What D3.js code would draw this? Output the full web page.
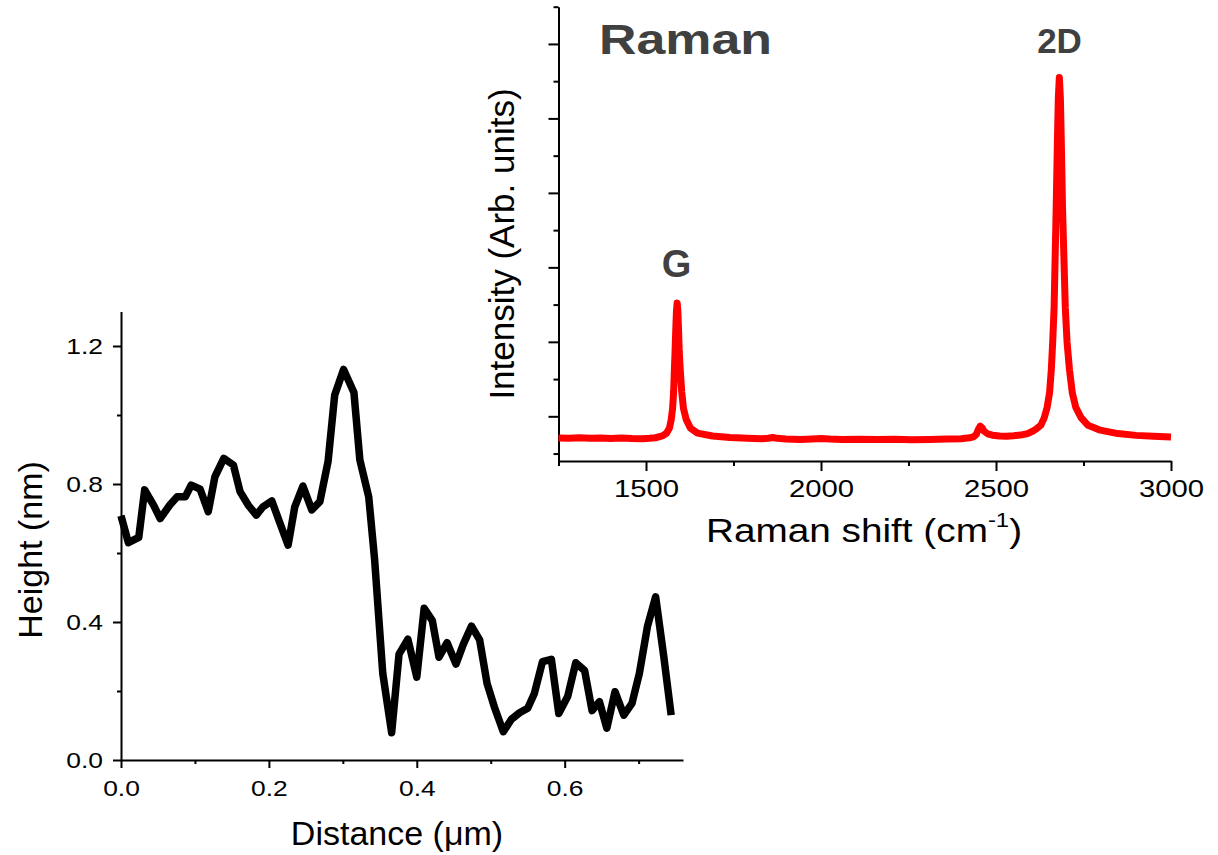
<!DOCTYPE html>
<html>
<head>
<meta charset="utf-8">
<script src="https://cdn.jsdelivr.net/npm/d3@7"></script>
<style>
  html, body { margin: 0; padding: 0; background: #fff; }
  svg { display: block; }
  .ax path, .ax line { stroke: #000; stroke-width: 2; }
  .ax text { font-family: "Liberation Sans", Arial, sans-serif; fill: #000; }
</style>
</head>
<body>
<svg id="chart" width="1218" height="855"></svg>
<script>
// ---------- AFM height profile (left panel) ----------
const distance = [0.000,0.010,0.024,0.032,0.044,0.053,0.066,0.076,0.087,0.095,0.107,0.118,0.127,0.139,0.152,0.161,0.172,0.183,0.192,0.204,0.215,0.226,0.235,0.246,0.258,0.269,0.280,0.289,0.301,0.315,0.323,0.335,0.343,0.354,0.366,0.376,0.388,0.400,0.410,0.421,0.430,0.441,0.453,0.463,0.474,0.485,0.495,0.505,0.517,0.528,0.539,0.550,0.559,0.570,0.582,0.592,0.604,0.615,0.627,0.637,0.647,0.657,0.668,0.680,0.691,0.701,0.712,0.723,0.734,0.744];
const height = [0.708,0.630,0.645,0.783,0.739,0.700,0.739,0.763,0.763,0.797,0.785,0.720,0.821,0.874,0.855,0.778,0.739,0.710,0.734,0.751,0.686,0.623,0.734,0.794,0.725,0.749,0.865,1.058,1.132,1.065,0.870,0.763,0.580,0.251,0.079,0.307,0.350,0.240,0.440,0.404,0.298,0.340,0.278,0.336,0.388,0.348,0.222,0.153,0.082,0.118,0.137,0.150,0.193,0.285,0.292,0.135,0.184,0.282,0.259,0.143,0.169,0.092,0.198,0.130,0.164,0.251,0.388,0.473,0.300,0.130];
const afmXTicks = [0, 0.2, 0.4, 0.6];
const afmXMinor = [0.1, 0.3, 0.5, 0.7];
const afmYTicks = [0, 0.4, 0.8, 1.2];
const afmYMinor = [0.2, 0.6, 1.0];

// ---------- Raman spectrum (right panel) ----------
const ramanShift = [1250,1280,1310,1340,1370,1400,1430,1460,1490,1510,1527,1547,1559,1567,1572,1576,1579,1581,1583,1585,1587,1589,1591,1593,1595,1598,1602,1607,1615,1627,1647,1690,1740,1790,1830,1850,1862,1875,1900,1940,1975,2000,2025,2060,2110,2160,2210,2260,2310,2360,2400,2425,2437,2444,2450,2455,2460,2466,2476,2490,2510,2530,2550,2570,2590,2606,2613,2628,2638,2646,2653,2658,2662,2666,2669,2672,2675,2678,2681,2684,2687,2690,2694,2698,2703,2710,2718,2728,2743,2763,2798,2848,2900,2950,3000];
const ramanIntensity = [710,706,712,704,709,703,708,701,700,705,712,736,775,842,955,1107,1333,1612,1867,2157,2413,2520,2413,2157,1867,1612,1333,1107,955,842,775,736,716,706,698,705,716,704,696,690,697,701,694,690,693,688,691,686,690,694,700,712,728,760,830,868,848,800,765,746,735,731,738,748,768,803,824,879,983,1119,1315,1624,1998,2459,3135,3811,4584,5266,5550,5266,4584,3811,3135,2459,1998,1624,1315,1119,983,879,814,768,744,731,722,718];
const ramanXTicks = [1500, 2000, 2500, 3000];
const ramanXMinor = [1250, 1750, 2250, 2750];
const ramanYTicks = [1000, 2000, 3000, 4000, 5000, 6000];
const ramanYMinor = [500, 1500, 2500, 3500, 4500, 5500, 6500];

const svg = d3.select("#chart");
const FONT = '"Liberation Sans", Arial, sans-serif';

// Left scales
const xL = d3.scaleLinear().domain([0, 0.76]).range([121, 683]);
const yL = d3.scaleLinear().domain([0, 1.3]).range([760, 311.5]);
// Right scales
const xR = d3.scaleLinear().domain([1250, 3000]).range([558.5, 1171]);
const yR = d3.scaleLinear().domain([400, 6500]).range([461, 6.7]);

// ----- Left panel axes -----
const gLx = svg.append("g").attr("class", "ax").attr("transform", `translate(0,${yL(0)})`);
gLx.call(d3.axisBottom(xL).tickValues(afmXTicks).tickSize(8).tickSizeOuter(0).tickPadding(12).tickFormat(d3.format(".1f")));
gLx.selectAll("text").attr("font-size", 22).attr("transform", "scale(1.2,1)");
svg.append("g").attr("class", "ax").attr("transform", `translate(0,${yL(0)})`)
  .call(d3.axisBottom(xL).tickValues(afmXMinor).tickSize(4).tickSizeOuter(0).tickFormat(""))
  .select(".domain").remove();

const gLy = svg.append("g").attr("class", "ax").attr("transform", `translate(${xL(0)},0)`);
gLy.call(d3.axisLeft(yL).tickValues(afmYTicks).tickSize(8).tickSizeOuter(0).tickPadding(10).tickFormat(d3.format(".1f")));
gLy.selectAll("text").attr("font-size", 22).attr("x", -18 / 1.2).attr("transform", "scale(1.2,1)");
svg.append("g").attr("class", "ax").attr("transform", `translate(${xL(0)},0)`)
  .call(d3.axisLeft(yL).tickValues(afmYMinor).tickSize(4).tickSizeOuter(0).tickFormat(""))
  .select(".domain").remove();

// Left line
svg.append("path")
  .datum(distance.map((d, i) => [d, height[i]]))
  .attr("fill", "none").attr("stroke", "#000").attr("stroke-width", 7.5)
  .attr("stroke-linejoin", "round").attr("stroke-linecap", "butt")
  .attr("d", d3.line().x(d => xL(d[0])).y(d => yL(d[1])));

// Left titles
svg.append("text").attr("x", 397).attr("y", 845).attr("text-anchor", "middle")
  .attr("font-family", FONT).attr("font-size", 34).text("Distance (\u03BCm)");
svg.append("text").attr("transform", `translate(42,550) rotate(-90)`).attr("text-anchor", "middle")
  .attr("font-family", FONT).attr("font-size", 34).text("Height (nm)");

// ----- Right panel axes -----
const gRx = svg.append("g").attr("class", "ax").attr("transform", `translate(0,${yR(400)})`);
gRx.call(d3.axisBottom(xR).tickValues(ramanXTicks).tickSize(10).tickSizeOuter(0).tickPadding(9).tickFormat(d3.format("d")));
gRx.selectAll("text").attr("font-size", 24).attr("transform", "scale(1.22,1)");
svg.append("g").attr("class", "ax").attr("transform", `translate(0,${yR(400)})`)
  .call(d3.axisBottom(xR).tickValues(ramanXMinor).tickSize(5).tickSizeOuter(0).tickFormat(""))
  .select(".domain").remove();

const gRy = svg.append("g").attr("class", "ax").attr("transform", `translate(${xR(1250)},0)`);
gRy.call(d3.axisLeft(yR).tickValues(ramanYTicks).tickSize(10).tickSizeOuter(0).tickFormat(""));
svg.append("g").attr("class", "ax").attr("transform", `translate(${xR(1250)},0)`)
  .call(d3.axisLeft(yR).tickValues(ramanYMinor).tickSize(5).tickSizeOuter(0).tickFormat(""))
  .select(".domain").remove();

// Right line
svg.append("path")
  .datum(ramanShift.map((d, i) => [d, ramanIntensity[i]]))
  .attr("fill", "none").attr("stroke", "#ff0000").attr("stroke-width", 7)
  .attr("stroke-linejoin", "round").attr("stroke-linecap", "butt")
  .attr("d", d3.line().x(d => xR(d[0])).y(d => yR(d[1])));

// Right titles
const xt = svg.append("g").attr("transform", "translate(864,542) scale(1.14,1)")
  .append("text").attr("x", 0).attr("y", 0).attr("text-anchor", "middle")
  .attr("font-family", FONT).attr("font-size", 34);
xt.append("tspan").text("Raman shift (cm");
xt.append("tspan").attr("font-size", 21).attr("dy", -15).text("-1");
xt.append("tspan").attr("dy", 15).text(")");
svg.append("text").attr("transform", `translate(514,244) rotate(-90)`).attr("text-anchor", "middle")
  .attr("font-family", FONT).attr("font-size", 35).text("Intensity (Arb. units)");

// Annotations
svg.append("text").attr("x", 599).attr("y", 54).attr("font-family", FONT).attr("font-weight", "bold")
  .attr("font-size", 42).attr("fill", "#404040").attr("textLength", 173).attr("lengthAdjust", "spacingAndGlyphs").text("Raman");
svg.append("text").attr("x", xR(1587)).attr("y", 277).attr("text-anchor", "middle").attr("font-family", FONT)
  .attr("font-weight", "bold").attr("font-size", 38).attr("fill", "#404040").text("G");
svg.append("text").attr("x", 1059.5).attr("y", 53).attr("text-anchor", "middle").attr("font-family", FONT)
  .attr("font-weight", "bold").attr("font-size", 35).attr("fill", "#404040").text("2D");
</script>
</body>
</html>
